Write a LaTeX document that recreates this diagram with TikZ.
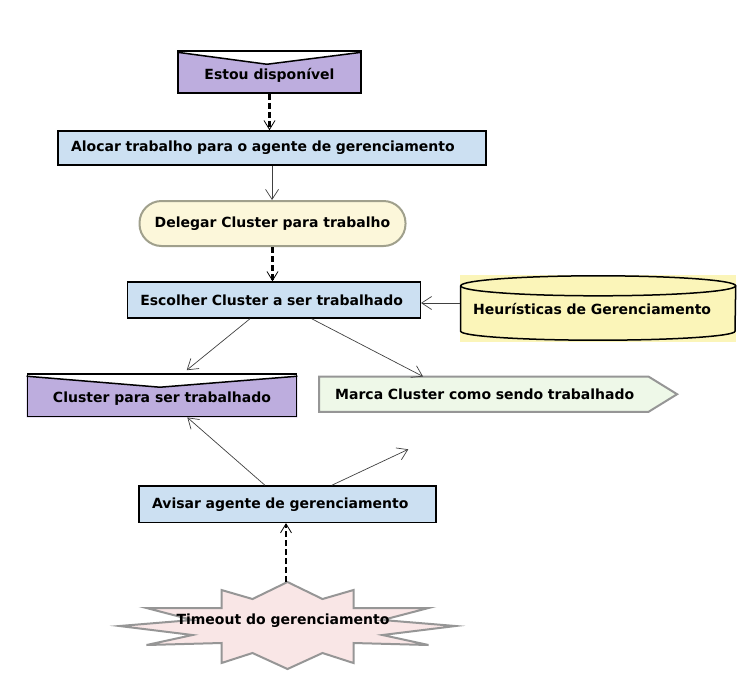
\documentclass[tikz,border=0pt]{standalone}
\usepackage{fontspec}
\setmainfont{DejaVu Sans}
\usetikzlibrary{arrows.meta,backgrounds}
\definecolor{lilas}{RGB}{189,173,222}
\definecolor{azul}{RGB}{204,224,242}
\definecolor{creme}{RGB}{252,247,218}
\definecolor{amarelo}{RGB}{251,245,185}
\definecolor{verde}{RGB}{238,248,232}
\definecolor{rosa}{RGB}{249,230,230}
\definecolor{cinza}{RGB}{150,150,150}
\definecolor{oliva}{RGB}{160,160,140}

\begin{document}
\begin{tikzpicture}[x=1pt,y=-1pt,
  every node/.style={font=\fontsize{14}{16}\selectfont\bfseries},
  procbox/.style={draw=black,line width=1.5pt,fill=azul,minimum height=35pt,anchor=west,align=left,inner xsep=13pt},
  vbox/.style={draw=black,line width=1.5pt,text height=15pt,text depth=0pt},
  seta/.style={draw=black!75,line width=0.7pt,-{Straight Barb[length=10pt,width=13pt,line width=0.7pt]}},
  tracejada/.style={draw=black,line width=2.6pt,dash pattern=on 6pt off 3pt,-{Straight Barb[length=9pt,width=11pt,line width=0.8pt]}}]

        \useasboundingbox (0,0) rectangle (741,678);

        % nodes
        \node[vbox,minimum width=183pt,minimum height=42pt] (estou) at (269.5,72) {Estou disponível};
        \node[procbox,text width=402pt,minimum height=34pt] (alocar) at (57.3,148) {Alocar trabalho para o agente de gerenciamento};
        \node[draw=oliva,line width=2pt,fill=creme,rounded corners=22pt,minimum width=266pt,minimum height=45pt] (delegar) at (272.5,223.5) {Delegar Cluster para trabalho};
        \node[procbox,text width=267pt,minimum height=36pt] (escolher) at (126.5,300) {Escolher Cluster a ser trabalhado};
        \node[fill=amarelo,minimum width=276pt,minimum height=67pt,anchor=west,align=left,inner xsep=13pt,text width=250pt] (heur) at (460,308.5) {Heurísticas de Gerenciamento};
        \node[vbox,minimum width=269.4pt,minimum height=42.7pt] (cluster) at (162,395.3) {Cluster para ser trabalhado};
        \node[anchor=west,minimum height=35pt,inner xsep=16pt,text width=325.7pt,align=left] (marca) at (319,394.2) {Marca Cluster como sendo trabalhado};
        \node[procbox,text width=271pt,minimum height=36.3pt] (avisar) at (138.3,504.2) {Avisar agente de gerenciamento};

        % estrela
        \coordinate (startop) at (286,582);
        \filldraw[fill=rosa,draw=cinza,line width=2pt,shift={(287.5,626)}]
          (0,-44) -- (35,-27) -- (66,-36) -- (66,-18) -- (141,-18) -- (95,-6) -- (168,0) -- (95,9) -- (141,19) -- (66,17) -- (66,37) -- (35,27) -- (0,43)
          -- (-35,27) -- (-66,37) -- (-66,17) -- (-141,19) -- (-95,9) -- (-168,0) -- (-95,-6) -- (-141,-18) -- (-66,-18) -- (-66,-36) -- (-35,-27) -- cycle;
        \node (timeout) at (283,621) {Timeout do gerenciamento};

        \begin{scope}[on background layer]
          \fill[lilas] ([yshift=-2pt]estou.north west) -- ([xshift=-2.5pt,yshift=-14pt]estou.north) -- ([yshift=-2pt]estou.north east) -- (estou.south east) -- (estou.south west) -- cycle;
          \fill[lilas] ([yshift=-3pt]cluster.north west) -- ([xshift=-2pt,yshift=-14pt]cluster.north) -- ([yshift=-3pt]cluster.north east) -- (cluster.south east) -- (cluster.south west) -- cycle;
          \filldraw[fill=verde,draw=cinza,line width=2pt] (marca.north west) -- ([xshift=-28.7pt]marca.north east) -- (marca.east) -- ([xshift=-28.7pt]marca.south east) -- (marca.south west) -- cycle;
        \end{scope}
        \draw[line width=1.5pt] ([yshift=-2pt]estou.north west) -- ([xshift=-2.5pt,yshift=-14pt]estou.north) -- ([yshift=-2pt]estou.north east);
        \draw[line width=1.5pt] ([yshift=-3pt]cluster.north west) -- ([xshift=-2pt,yshift=-14pt]cluster.north) -- ([yshift=-3pt]cluster.north east);

        % cilindro
        \draw[line width=1.5pt] ([yshift=-11pt]heur.north) ellipse [x radius=137.5pt,y radius=10pt];
        \draw[line width=1.5pt] ([xshift=0.7pt,yshift=-11pt]heur.north west) -- ([xshift=0.7pt,yshift=11pt]heur.south west)
          arc[start angle=180,end angle=360,x radius=137.15pt,y radius=9pt] -- ([xshift=-0.7pt,yshift=-11pt]heur.north east);

        \coordinate (avisarfim) at (408.3,449.3);

        % conectores
        \draw[tracejada] (estou.south) -- (estou.south |- alocar.north);
        \draw[seta] (alocar.south) -- (alocar.south |- delegar.north);
        \draw[tracejada] (delegar.south) -- (delegar.south |- escolher.north);
        \draw[seta] ([yshift=-3pt]heur.west |- escolher.east) -- ([yshift=-3pt]escolher.east);
        \draw[seta] ([xshift=123.5pt]escolher.south west) -- ([xshift=24.7pt,yshift=3pt]cluster.north);
        \draw[seta] ([xshift=185.2pt]escolher.south west) -- ([xshift=104pt]marca.north west);
        \draw[seta] ([xshift=126.7pt]avisar.north west) -- ([xshift=25.3pt]cluster.south);
        \draw[seta] ([xshift=193.4pt]avisar.north west) -- (avisarfim);
        \draw[tracejada] (startop) -- (startop |- avisar.south);

      \end{tikzpicture}
\end{document}
